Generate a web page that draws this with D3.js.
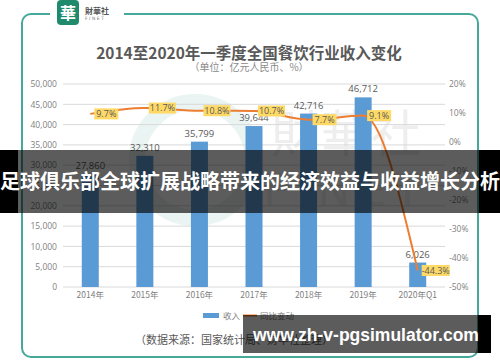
<!DOCTYPE html>
<html><head><meta charset="utf-8">
<script src="https://cdn.jsdelivr.net/npm/d3@7"></script>
<style>html,body{margin:0;padding:0;background:#fff;}svg{display:block;}</style>
</head><body><svg id="c" width="500" height="362"></svg>
<script>
const categories = ["2014年","2015年","2016年","2017年","2018年","2019年","2020年Q1"];
const revenue = [27860,32310,35799,39644,42716,46712,6026];
const growth = [9.7,11.7,10.8,10.7,7.7,9.1,-44.3];
const leftTicks = [0,5000,10000,15000,20000,25000,30000,35000,40000,45000,50000];
const rightTicks = [20,10,0,-10,-20,-30,-40,-50];
const titleText = "2014至2020年一季度全国餐饮行业收入变化";
const subtitleText = "（单位：亿元人民币、%）";
const legendLabels = ["收入","同比变动"];
const sourceText = "（数据来源：国家统计局、财华社整理）";
const bannerText = "足球俱乐部全球扩展战略带来的经济效益与收益增长分析";
const urlText = "www.zh-v-pgsimulator.com";

const CJK = "'Noto Sans CJK SC','Noto Sans',sans-serif";
const svg = d3.select("#c");
svg.append("rect").attr("width",500).attr("height",362).attr("fill","#fff");

// frame
svg.append("rect").attr("x",22).attr("y",14).attr("width",456).attr("height",343)
  .attr("rx",9).attr("fill","none").attr("stroke","#45a89b").attr("stroke-width",2);
svg.append("rect").attr("x",50).attr("y",8).attr("width",74).attr("height",12).attr("fill","#fff");
// logo
svg.append("rect").attr("x",57).attr("y",0).attr("width",22).attr("height",25).attr("rx",4).attr("fill","#1f8a6c");
svg.append("text").attr("x",68).attr("y",19).attr("text-anchor","middle").attr("fill","#fff")
  .attr("font-family",CJK).attr("font-weight","bold").attr("font-size",16).text("華");
svg.append("text").attr("x",85).attr("y",14).attr("fill","#555").attr("font-family",CJK)
  .attr("font-size",8).attr("font-weight","bold").text("財華社");
svg.append("text").attr("x",85).attr("y",19.5).attr("fill","#777").attr("font-family","'DejaVu Sans',sans-serif")
  .attr("font-size",4.5).attr("letter-spacing",1.5).text("FINET");

// watermark
svg.append("circle").attr("cx",195).attr("cy",160).attr("r",58).attr("fill","none")
  .attr("stroke","#eaf4f2").attr("stroke-width",16);
svg.append("text").attr("x",346).attr("y",152).attr("text-anchor","middle").attr("fill","#eeeeee")
  .attr("font-family",CJK).attr("font-size",50).text("財華社");
svg.append("text").attr("x",346).attr("y",206).attr("text-anchor","middle").attr("fill","#f0f0f0")
  .attr("font-family","'DejaVu Sans',sans-serif").attr("font-size",44).attr("letter-spacing",8).text("FINET");

// titles
svg.append("text").attr("x",249).attr("y",59).attr("text-anchor","middle").attr("fill","#595959")
  .attr("font-family",CJK).attr("font-weight","bold").attr("font-size",15.5).text(titleText);
svg.append("text").attr("x",249).attr("y",71).attr("text-anchor","middle").attr("fill","#8a8a8a")
  .attr("font-family",CJK).attr("font-size",10).text(subtitleText);

// scales
const x = d3.scaleBand().domain(categories).range([63,445]).padding(0);
const yL = d3.scaleLinear().domain([0,50000]).range([287,84]);
const yR = d3.scaleLinear().domain([-50,20]).range([287,84]);
const bw = 17;
const cx = c => x(c) + x.bandwidth()/2;

// gridlines
svg.append("g").selectAll("line").data(leftTicks).join("line")
  .attr("x1",63).attr("x2",445).attr("y1",d=>yL(d)).attr("y2",d=>yL(d))
  .attr("stroke","#d9d9d9").attr("stroke-width",1);

// left axis
const gl = svg.append("g").attr("transform","translate(57,0)")
  .call(d3.axisLeft(yL).tickValues(leftTicks).tickSize(0).tickPadding(0).tickFormat(d3.format(",")));
gl.select(".domain").remove();
gl.selectAll("text").attr("fill","#7f7f7f").attr("font-family","'Open Sans',sans-serif").attr("font-size",8.5);

// right axis
const gr = svg.append("g").attr("transform","translate(449,0)")
  .call(d3.axisRight(yR).tickValues(rightTicks).tickSize(0).tickPadding(0).tickFormat(d=>d+"%"));
gr.select(".domain").remove();
gr.selectAll("text").attr("fill","#7f7f7f").attr("font-family","'Open Sans',sans-serif").attr("font-size",8.5);

// bottom axis
const gb = svg.append("g").attr("transform","translate(0,292)")
  .call(d3.axisBottom(x).tickSize(0).tickPadding(0));
gb.select(".domain").remove();
gb.selectAll("text").attr("fill","#7f7f7f").attr("font-family",CJK).attr("font-size",8.5);

// bars
svg.append("g").selectAll("rect").data(revenue).join("rect")
  .attr("x",(d,i)=>cx(categories[i])-bw/2).attr("width",bw)
  .attr("y",d=>yL(d)).attr("height",d=>yL(0)-yL(d)).attr("fill","#5b9bd5");
svg.append("g").selectAll("text").data(revenue).join("text")
  .attr("x",(d,i)=>cx(categories[i])).attr("y",d=>yL(d)-5).attr("text-anchor","middle")
  .attr("fill","#595959").attr("font-family","'Open Sans',sans-serif").attr("font-size",9.5)
  .text(d=>d3.format(",")(d));

// line
const line = d3.line().x((d,i)=>cx(categories[i])).y(d=>yR(d)).curve(d3.curveMonotoneX);
svg.append("path").datum(growth).attr("d",line).attr("fill","none")
  .attr("stroke","#ed7d31").attr("stroke-width",2);

// line labels
const lw = d => d<0?28:(String(d).length>3?27:24);
const lg = svg.append("g").selectAll("g").data(growth).join("g")
  .attr("transform",(d,i)=>`translate(${cx(categories[i])+4},${yR(d)})`);
lg.append("rect").attr("x",0).attr("y",-5.5).attr("height",11)
  .attr("width",lw).attr("fill","#ffd966");
lg.append("text").attr("x",d=>lw(d)/2).attr("y",3.3).attr("text-anchor","middle")
  .attr("fill","#595959").attr("font-family","'Open Sans',sans-serif").attr("font-size",9)
  .text(d=>d.toFixed(1)+"%");

// legend
svg.append("rect").attr("x",203).attr("y",313).attr("width",16).attr("height",5).attr("fill","#5b9bd5");
svg.append("text").attr("x",223).attr("y",319).attr("fill","#7f7f7f").attr("font-family",CJK).attr("font-size",8.5).text(legendLabels[0]);
svg.append("line").attr("x1",243).attr("x2",257).attr("y1",315.5).attr("y2",315.5).attr("stroke","#ed7d31").attr("stroke-width",2);
svg.append("text").attr("x",260).attr("y",319).attr("fill","#7f7f7f").attr("font-family",CJK).attr("font-size",8.5).text(legendLabels[1]);

// source
svg.append("text").attr("x",135).attr("y",344).attr("fill","#595959").attr("font-family",CJK).attr("font-size",11).text(sourceText);

// overlay banner
svg.append("rect").attr("x",0).attr("y",150).attr("width",18).attr("height",63).attr("fill","#000");
svg.append("rect").attr("x",479).attr("y",150).attr("width",21).attr("height",63).attr("fill","#000");
svg.append("rect").attr("x",18).attr("y",150).attr("width",461).attr("height",63).attr("fill","rgba(0,0,0,0.64)");
svg.append("text").attr("x",250).attr("y",189).attr("text-anchor","middle").attr("fill","#fff")
  .attr("font-family",CJK).attr("font-weight","bold").attr("font-size",20).text(bannerText);

// url banner
svg.append("rect").attr("x",243).attr("y",315).attr("width",235).attr("height",38).attr("fill","rgba(0,0,0,0.64)");
svg.append("rect").attr("x",478).attr("y",315).attr("width",13).attr("height",38).attr("fill","#000");
svg.append("text").attr("x",253).attr("y",341).attr("fill","#fff")
  .attr("font-family","'Liberation Sans',Arial,sans-serif").attr("font-weight","bold").attr("font-size",17.5).text(urlText);
</script></body></html>
